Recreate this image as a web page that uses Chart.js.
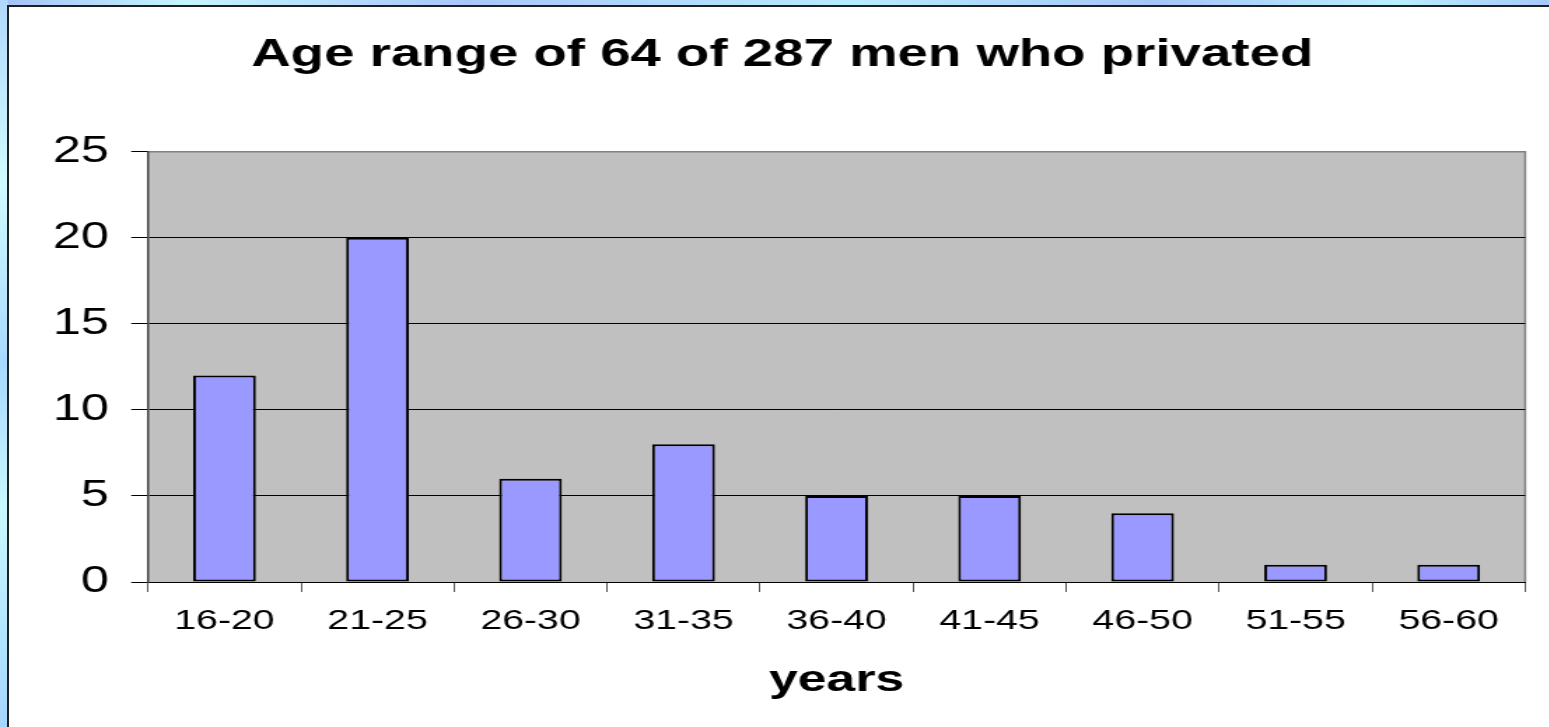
<!DOCTYPE html>
<html>
<head>
<meta charset="utf-8">
<script src="https://cdn.jsdelivr.net/npm/chart.js@4"></script>
<style>
    html, body { margin: 0; padding: 0; width: 1549px; height: 727px; overflow: hidden; }
    body {
        background:
            linear-gradient(90deg, #a4c0f6 0%, #c4f6ff 12%, #a8c6fb 30%, #b6ecff 55%, #a4c4f8 75%, #b8f0ff 90%, #a6c8fa 100%);
    }
    .side {
        position: absolute; left: 0; top: 0; width: 8px; height: 727px;
        background: linear-gradient(180deg, #b0d8fc 0%, #d0fbff 25%, #a8d8ff 50%, #c8f8ff 70%, #a4d6ff 100%);
    }
    .panel {
        position: absolute; left: 7px; top: 5px; right: -10px; bottom: -10px;
        background: #fff; border-left: 2px solid #1e1e1e; border-top: 2px solid #1e1e1e;
    }
    .wrap {
        position: absolute; left: 0; top: 0; width: 1106.4px; height: 727px;
        transform: scaleX(1.4); transform-origin: 0 0;
    }
</style>
</head>
<body>
<div class="side"></div>
<div class="panel"></div>
<div class="wrap"><canvas id="ageChart"></canvas></div>
<script>
/* Age range histogram (Excel-style, stretched horizontally) */

const ageRanges = ['16-20', '21-25', '26-30', '31-35', '36-40', '41-45', '46-50', '51-55', '56-60'];
const menCount = [12, 20, 6, 8, 5, 5, 4, 1, 1];
const yTicks = [0, 5, 10, 15, 20, 25];

const FONT = "'Liberation Sans', Arial, sans-serif";

const plotBackground = {
    id: 'plotBackground',
    beforeDraw(chart) {
        const { ctx, chartArea: a } = chart;
        ctx.save();
        ctx.fillStyle = '#c0c0c0';
        ctx.fillRect(a.left, a.top, a.right - a.left, a.bottom - a.top);
        ctx.strokeStyle = '#808080';
        ctx.lineWidth = 1.5;
        ctx.beginPath();
        ctx.moveTo(a.left, a.top);
        ctx.lineTo(a.right, a.top);
        ctx.lineTo(a.right, a.bottom);
        ctx.stroke();
        ctx.restore();
    }
};

new Chart(document.getElementById('ageChart'), {
    type: 'bar',
    data: {
        labels: ageRanges,
        datasets: [{
            data: menCount,
            backgroundColor: '#9999ff',
            borderColor: '#000',
            borderWidth: 2,
            borderSkipped: false,
            barPercentage: 0.41,
            categoryPercentage: 1
        }]
    },
    options: {
        responsive: true, maintainAspectRatio: false, animation: false,
        layout: { padding: { top: 5, left: 28, right: 17, bottom: 24 } },
        plugins: {
            legend: { display: false },
            tooltip: { enabled: false },
            title: {
                display: true,
                text: 'Age range of 64 of 287 men who privated',
                color: '#000',
                font: { family: FONT, size: 39, weight: 'bold' },
                padding: { top: 27, bottom: 73 }
            }
        },
        scales: {
            x: {
                grid: { drawOnChartArea: false, tickLength: 10, tickColor: '#555', offset: true },
                border: { color: '#000', width: 1 },
                ticks: { color: '#000', padding: 12, font: { family: FONT, size: 28 }, maxRotation: 0 },
                title: {
                    display: true, text: 'years', color: '#000',
                    font: { family: FONT, size: 37, weight: 'bold' },
                    padding: { top: 9, bottom: 0 }
                }
            },
            y: {
                min: 0, max: 25,
                afterFit: s => { s.width = 77.7; },
                afterBuildTicks: s => { s.ticks = yTicks.map(v => ({ value: v })); },
                grid: {
                    color: c => c.tick && c.tick.value === 25 ? '#808080' : '#000',
                    tickColor: '#000',
                    tickLength: 12, lineWidth: 1
                },
                border: { color: '#444', width: 1.5 },
                ticks: { color: '#000', padding: 16, font: { family: FONT, size: 36 } }
            }
        }
    },
    plugins: [plotBackground]
});
</script>
</body>
</html>
